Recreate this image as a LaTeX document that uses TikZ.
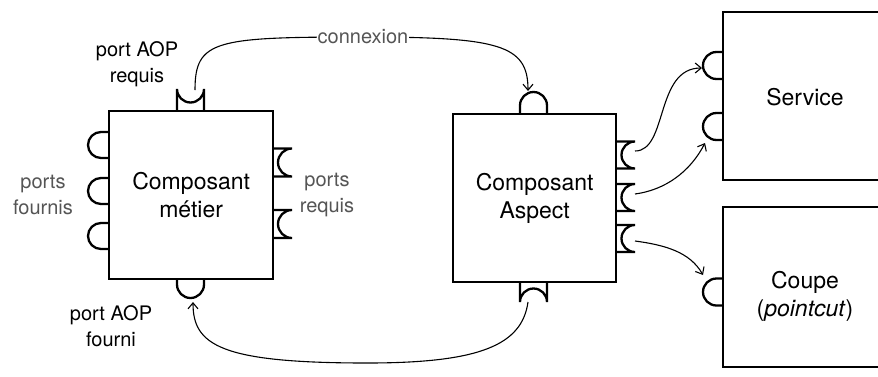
\documentclass[tikz,border=0pt]{standalone}
\usepackage{fontspec}
\setmainfont{TeX Gyre Heros}
\usetikzlibrary{arrows.meta}
\definecolor{labelgray}{HTML}{555555}
\begin{document}
\begin{tikzpicture}[x=1pt,y=-1pt,
  box/.style={draw,line width=2.3pt,inner sep=0pt},
  port/.style={line width=2.3pt},
  conn/.style={line width=1.1pt,-{Straight Barb[length=6pt,width=10pt]}},
  main/.style={font=\fontsize{23}{28}\selectfont,align=center},
  lbl/.style={font=\fontsize{20}{26}\selectfont,align=center},
  glbl/.style={lbl,text=labelgray}]
\useasboundingbox (0,0) rectangle (878,376);

% boxes
\node[box,main,anchor=north west,minimum width=164pt,minimum height=168pt] (metier) at (108,110) {Composant\\métier};
\node[box,main,anchor=north west,minimum width=163pt,minimum height=168pt] (aspect) at (452,113) {Composant\\Aspect};
\draw[line width=2.3pt] (890,12) -- (723,12) -- (723,180) -- (890,180);
\draw[line width=2.3pt] (890,207) -- (723,207) -- (723,367) -- (890,367);
\node[main] (service) at (805,97) {Service};
\node[main] (coupe) at (805,296) {Coupe\\(\textit{pointcut})};

% ports of Composant metier
\draw[port] (177,110) -- (177,89) arc[start angle=180,end angle=0,radius=13.5] -- (204,110);
\foreach \c in {145,191,236}
  \draw[port] (108,\c-13) -- (101,\c-13) arc[start angle=270,end angle=90,radius=13] -- (108,\c+13);
\foreach \c in {162.5,224}
  \draw[port] (272,\c-14) -- (292,\c-14) arc[start angle=270,end angle=90,radius=14] -- (272,\c+14);
\draw[port] (177,278) -- (177,284.5) arc[start angle=180,end angle=0,radius=13.5] -- (204,278);

% ports of Composant Aspect
\draw[port] (520,113) -- (520,105.5) arc[start angle=180,end angle=360,radius=13.5] -- (547,113);
\foreach \c in {155,197.5,238.5}
  \draw[port] (615,\c-13.5) -- (635,\c-13.5) arc[start angle=270,end angle=90,radius=13.5] -- (615,\c+13.5);
\draw[port] (520,281) -- (520,302) arc[start angle=180,end angle=360,radius=13.5] -- (547,281);

% ports of Service and Coupe
\foreach \c in {65.5,126.5,292}
  \draw[port] (723,\c-13.5) -- (716.5,\c-13.5) arc[start angle=270,end angle=90,radius=13.5] -- (723,\c+13.5);

% labels
\node[lbl] (aopreq) at (137,64) {port AOP\\requis};
\node[glbl] (pfourn) at (43,195) {ports\\fournis};
\node[glbl] (preq) at (327,195) {ports\\requis};
\node[lbl] (aopfourn) at (111,326) {port AOP\\fourni};

% connector end points
\coordinate (a1) at (195,90);
\coordinate (a2) at (528,91);
\coordinate (b1) at (528,302);
\coordinate (b2) at (193,302);
\coordinate (s1) at (635,151);
\coordinate (t1) at (702,68);
\coordinate (s2) at (635,194);
\coordinate (t2) at (705,143);
\coordinate (s3) at (635,241);
\coordinate (t3) at (703,275);

% connectors
\draw[conn] (a1) .. controls (195,40) and (215,37) .. (363,37)
  node[glbl,fill=white,inner sep=1pt] (cnx) {connexion}
  .. controls (500,37) and (528,45) .. (a2);
\draw[conn] (b1) .. controls (522,345) and (480,363) .. (367,363)
  .. controls (220,363) and (193,345) .. (b2);
\draw[conn] (s1) .. controls (668,151) and (655,68) .. (t1);
\draw[conn] (s2) .. controls (665,190) and (690,172) .. (t2);
\draw[conn] (s3) .. controls (665,245) and (690,252) .. (t3);
\end{tikzpicture}
\end{document}
